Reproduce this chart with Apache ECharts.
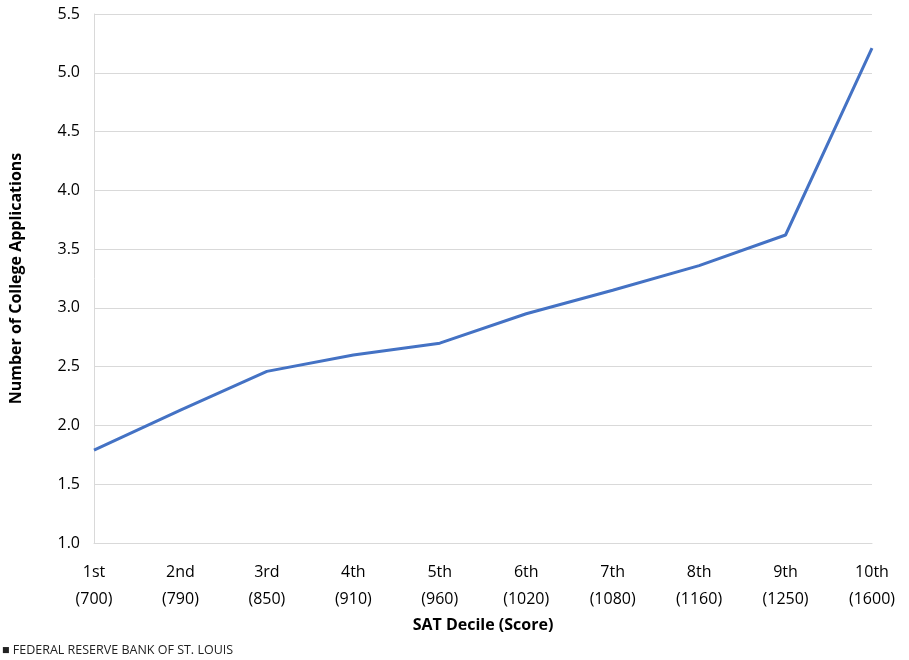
<!DOCTYPE html>
<html><head><meta charset="utf-8">
<script src="https://cdn.jsdelivr.net/npm/echarts@6/dist/echarts.min.js"></script>
<style>html,body{margin:0;padding:0;background:#fff}#c{width:909px;height:660px}</style>
</head><body><div id="c"></div>
<script>
const categories = ['1st\n(700)','2nd\n(790)','3rd\n(850)','4th\n(910)','5th\n(960)','6th\n(1020)','7th\n(1080)','8th\n(1160)','9th\n(1250)','10th\n(1600)'];
const applications = [1.79, 2.13, 2.46, 2.60, 2.70, 2.95, 3.15, 3.36, 3.62, 5.21];
const chart = echarts.init(document.getElementById('c'));
const font = '"Open Sans", "Liberation Sans", sans-serif';
chart.setOption({
  animation:false,
  textStyle:{fontFamily:font},
  grid:{left:92,right:37,top:14,bottom:117},
  graphic:[{type:'text',left:2,bottom:3,style:{text:'■ FEDERAL RESERVE BANK OF ST. LOUIS',fontSize:12.5,fill:'#222',fontFamily:font,letterSpacing:1}}],
  xAxis:{type:'category',data:categories,boundaryGap:false,
    name:'SAT Decile (Score)',nameLocation:'middle',nameGap:70,
    nameTextStyle:{fontSize:16,fontWeight:'bold',color:'#000'},
    axisLine:{lineStyle:{color:'#d9d9d9'}},axisTick:{show:false},
    axisLabel:{fontSize:16,color:'#000',lineHeight:27,margin:16},
    splitLine:{show:false}},
  yAxis:{type:'value',min:1,max:5.5,interval:0.5,
    name:'Number of College Applications',nameLocation:'middle',nameGap:70,
    nameTextStyle:{fontSize:16,fontWeight:'bold',color:'#000'},
    axisLabel:{fontSize:16,color:'#000',formatter:v=>v.toFixed(1),margin:14},
    axisLine:{show:true,lineStyle:{color:'#d9d9d9'}},
    splitLine:{lineStyle:{color:'#d9d9d9'}}},
  series:[{type:'line',data:applications,symbol:'none',lineStyle:{color:'#4472c4',width:3}}]
});
</script></body></html>
